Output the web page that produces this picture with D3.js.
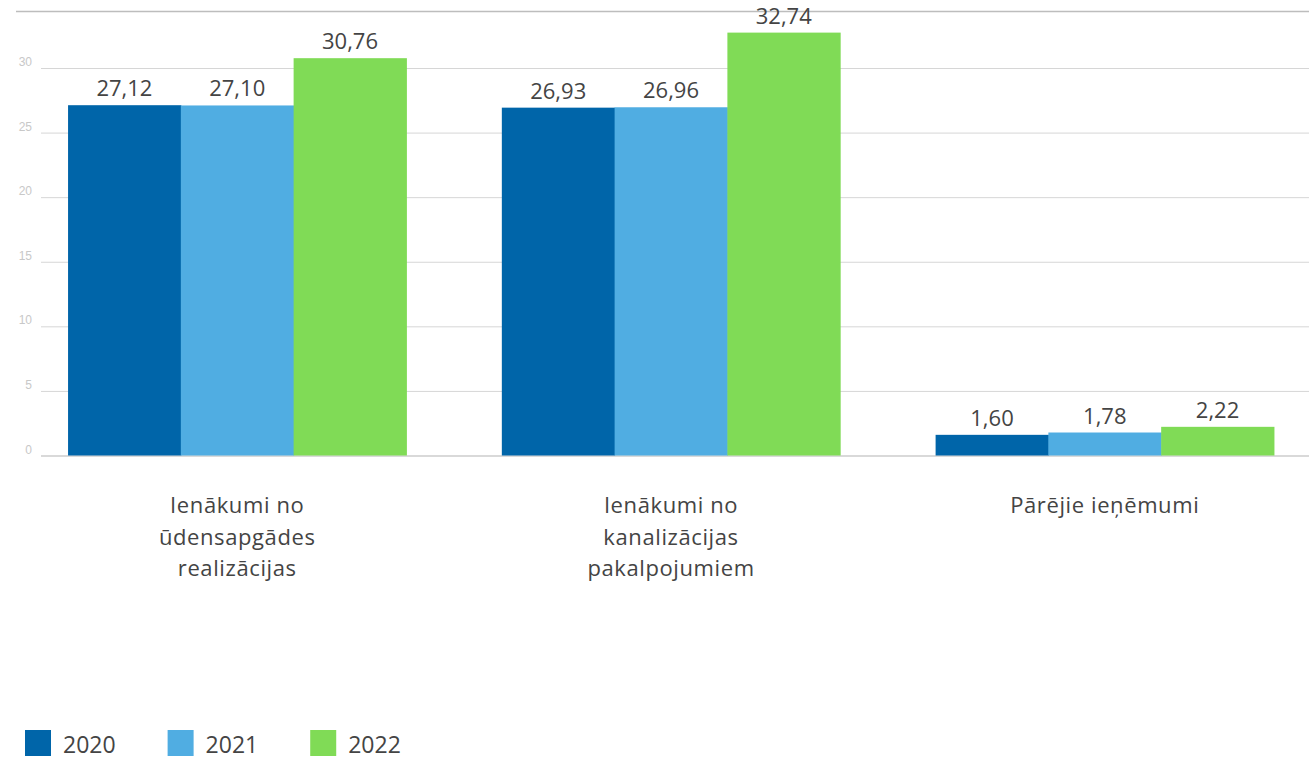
<!DOCTYPE html>
<html>
<head>
<meta charset="utf-8">
<script src="https://cdn.jsdelivr.net/npm/d3@7"></script>
<style>
  body { margin: 0; background: #fff; }
  svg { display: block; font-family: "Open Sans", "Noto Sans", sans-serif; }
</style>
</head>
<body>
<svg id="chart" width="1309" height="760"></svg>
<script>
// data
let categories = [
  ['Ienākumi no', 'ūdensapgādes', 'realizācijas'],
  ['Ienākumi no', 'kanalizācijas', 'pakalpojumiem'],
  ['Pārējie ieņēmumi']
];
let years = ['2020', '2021', '2022'];
let values2020 = [27.12, 26.93, 1.60];
let values2021 = [27.10, 26.96, 1.78];
let values2022 = [30.76, 32.74, 2.22];
let yTicks = [0, 5, 10, 15, 20, 25, 30];
let colors = ['#0065a9', '#50ade2', '#80db56'];

let series = [values2020, values2021, values2022];

let svg = d3.select('#chart');

let x0 = d3.scaleBand()
  .domain(d3.range(categories.length))
  .range([16, 1326])
  .paddingInner(0.22)
  .paddingOuter(0.12);

let x1 = d3.scaleBand()
  .domain(years)
  .range([0, x0.bandwidth()]);

let y = d3.scaleLinear()
  .domain([0, 30])
  .range([455.5, 68]);

let fmt = (v) => v.toFixed(2).replace('.', ',');

// top border line
svg.append('line')
  .attr('x1', 16).attr('x2', 1309)
  .attr('y1', 11.5).attr('y2', 11.5)
  .attr('stroke', '#bdbdbd')
  .attr('stroke-width', 1.5);

// gridlines + tick labels via axis
let axis = d3.axisLeft(y)
  .tickValues(yTicks)
  .tickSize(-(1309 - 41))
  .tickFormat(d3.format('d'));

let gAxis = svg.append('g')
  .attr('transform', 'translate(41,0)')
  .call(axis);

gAxis.select('.domain').remove();
gAxis.selectAll('.tick line')
  .attr('stroke', (d) => d === 0 ? '#d9d9d9' : '#d6d6d6')
  .attr('stroke-width', (d) => d === 0 ? 2 : 1);
gAxis.selectAll('.tick text')
  .attr('x', -9)
  .attr('dy', '-0.2em')
  .attr('fill', '#c8c8c8')
  .style('font-size', '12px');

// bars
let groups = svg.append('g')
  .selectAll('g')
  .data(categories.map((c, i) => i))
  .enter()
  .append('g')
  .attr('transform', (i) => 'translate(' + x0(i) + ',0)');

groups.selectAll('rect')
  .data((i) => years.map((yr, k) => ({ yr: yr, k: k, v: series[k][i] })))
  .enter()
  .append('rect')
  .attr('x', (d) => x1(d.yr))
  .attr('width', x1.bandwidth() + 0.5)
  .attr('y', (d) => y(d.v))
  .attr('height', (d) => y(0) - y(d.v))
  .attr('fill', (d) => colors[d.k]);

groups.selectAll('text.val')
  .data((i) => years.map((yr, k) => ({ yr: yr, k: k, v: series[k][i] })))
  .enter()
  .append('text')
  .attr('class', 'val')
  .attr('x', (d) => x1(d.yr) + x1.bandwidth() / 2)
  .attr('y', (d) => y(d.v) - 9)
  .attr('text-anchor', 'middle')
  .attr('fill', '#444')
  .style('font-size', '22px')
  .text((d) => fmt(d.v));

// category labels
let catText = svg.append('g')
  .selectAll('text')
  .data(categories)
  .enter()
  .append('text')
  .attr('x', (c, i) => x0(i) + x0.bandwidth() / 2)
  .attr('y', 513)
  .attr('text-anchor', 'middle')
  .attr('fill', '#444')
  .style('font-size', '22px')
  .style('letter-spacing', '0.6px');

catText.selectAll('tspan')
  .data((c) => c)
  .enter()
  .append('tspan')
  .attr('x', function () { return d3.select(this.parentNode).attr('x'); })
  .attr('dy', (d, j) => j === 0 ? 0 : 31.5)
  .text((d) => d);

// legend
let legend = svg.append('g');
let lx = 25;
years.forEach((yr, k) => {
  legend.append('rect')
    .attr('x', lx).attr('y', 730)
    .attr('width', 26).attr('height', 26)
    .attr('fill', colors[k]);
  let t = legend.append('text')
    .attr('x', lx + 38)
    .attr('y', 753)
    .attr('fill', '#444')
    .style('font-size', '23px')
    .text(yr);
  lx += 38 + t.node().getComputedTextLength() + 52;
});
</script>
</body>
</html>
